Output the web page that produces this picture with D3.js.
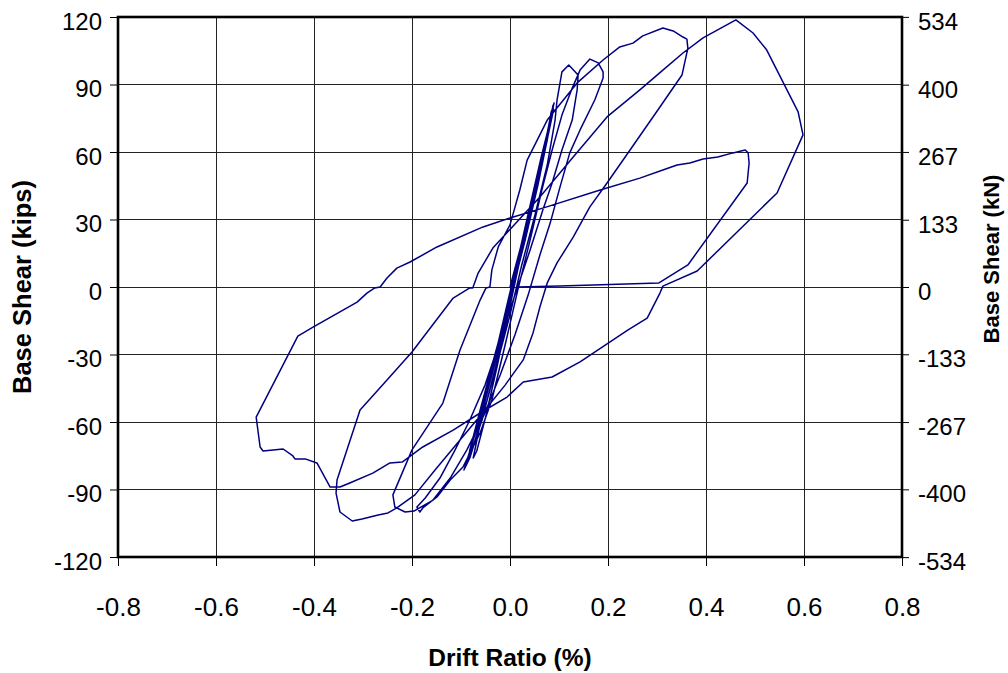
<!DOCTYPE html>
<html>
<head>
<meta charset="utf-8">
<script src="https://cdn.jsdelivr.net/npm/d3@7"></script>
<style>
  body { margin: 0; background: #fff; }
  svg { display: block; }
  text { font-family: Arial, "Liberation Sans", sans-serif; fill: #000; }
</style>
</head>
<body>
<svg id="chart" width="1008" height="673"></svg>
<script>
// ---- data ----
const xTicks = [-0.8, -0.6, -0.4, -0.2, 0.0, 0.2, 0.4, 0.6, 0.8];
const xTickLabels = ["-0.8", "-0.6", "-0.4", "-0.2", "0.0", "0.2", "0.4", "0.6", "0.8"];
const kipTicks = [-120, -90, -60, -30, 0, 30, 60, 90, 120];
const kNTicks = [534, 400, 267, 133, 0, -133, -267, -400, -534];
const KIP_TO_KN = 4.448;

// drift ratio (%) and base shear (kips), in test order
const driftRatio = [
  0, 0.031, 0.057, 0.078, 0.088, 0.080, 0.061, 0.037, 0.010, -0.020, -0.051, -0.078, -0.092,
  -0.082, -0.057, -0.031, -0.006, 0.020, 0.045, 0.067, 0.084, 0.088,
  0.076, 0.051, 0.024, 0.000, -0.031, -0.061, -0.082, -0.086,
  -0.071, -0.045, -0.016, 0.010, 0.037, 0.061, 0.082, 0.090,
  0.080, 0.064, 0.045, 0.022, -0.004, -0.035, -0.062, -0.075,
  -0.068, -0.050, -0.026, 0.000, 0.028, 0.055, 0.078, 0.089,
  0.078, 0.057, 0.031, 0.004, -0.024, -0.053, -0.078, -0.094,
  -0.082, -0.055, -0.027, 0.000, 0.024, 0.051, 0.076, 0.092, 0.096, 0.106, 0.120, 0.139, 0.137,
  0.127, 0.106, 0.086, 0.067, 0.041, 0.010, -0.020, -0.051, -0.082, -0.112, -0.143, -0.173,
  -0.190, -0.184, -0.178, -0.149, -0.122, -0.096, -0.061, -0.037, -0.010, 0.016, 0.041,
  0.065, 0.086, 0.106, 0.127, 0.143, 0.163, 0.180, 0.190, 0.190, 0.173, 0.143, 0.122, 0.102,
  0.082, 0.061, 0.037, 0.010, -0.020, -0.053, -0.088, -0.122, -0.157, -0.196, -0.214, -0.235,
  -0.239, -0.200, -0.137, -0.102, -0.061, -0.049, -0.041, -0.037, -0.024, 0.000, 0.020, 0.035,
  0.076, 0.137, 0.190, 0.224, 0.251, 0.271, 0.312, 0.333, 0.353, 0.361, 0.363, 0.351, 0.306,
  0.245, 0.198, 0.163, 0.129, 0.096, 0.076, 0.061, 0.047, 0.027, -0.010, -0.051, -0.102,
  -0.153, -0.194, -0.231, -0.249, -0.269, -0.302, -0.322, -0.347, -0.355, -0.353,
  -0.306, -0.251, -0.200, -0.116, -0.082, -0.076, -0.065, -0.035, 0.061, 0.129, 0.198, 0.265,
  0.312, 0.353, 0.394, 0.461, 0.496, 0.524, 0.588, 0.598, 0.545, 0.382, 0.312, 0.306, 0.280,
  0.241, 0.143, 0.086, 0.027, -0.006, -0.061, -0.116, -0.178, -0.220, -0.245, -0.280, -0.327,
  -0.347, -0.367, -0.394, -0.418, -0.439, -0.443, -0.463, -0.504, -0.510, -0.518,
  -0.433, -0.402, -0.312, -0.292, -0.276, -0.265, -0.251, -0.231, -0.204, -0.149, -0.055,
  0.000, 0.075, 0.184, 0.265, 0.312, 0.341, 0.367, 0.394, 0.424, 0.455, 0.480, 0.486, 0.488,
  0.484, 0.363, 0.304, 0.102, 0.014
];
const baseShear = [
  0, 25.3, 47.6, 69.8, 80.9, 72.0, 52.0, 29.8, 3.1, -23.6, -50.2, -70.2, -80.4,
  -74.7, -59.1, -36.9, -14.7, 12.0, 34.2, 56.4, 77.8, 79.6,
  65.3, 40.9, 16.4, -5.8, -30.2, -54.7, -72.4, -77.8,
  -68.0, -45.8, -21.3, 5.3, 28.9, 52.0, 75.1, 81.8,
  72.0, 58.0, 40.0, 18.0, -6.0, -35.0, -62.0, -76.0,
  -73.0, -58.0, -35.0, -8.0, 22.0, 47.0, 68.0, 79.0,
  67.6, 45.3, 20.9, -2.2, -25.8, -50.2, -70.2, -81.3,
  -76.0, -56.9, -34.7, -12.4, 9.8, 32.0, 54.2, 74.2, 83.1, 95.6, 98.7, 94.2, 87.6,
  74.2, 60.9, 46.2, 34.2, 16.4, -3.6, -23.6, -43.6, -59.1, -72.4, -84.9, -93.8,
  -97.8, -100.0, -98.2, -93.3, -85.8, -80.0, -64.9, -50.2, -25.8, -1.3, 20.9,
  43.1, 60.9, 76.4, 88.4, 96.4, 101.3, 99.6, 95.6, 92.9, 83.1, 69.8, 59.6, 44.4,
  28.4, 14.2, -3.6, -21.3, -39.1, -56.9, -72.4, -84.9, -94.7, -99.6, -100.0, -97.8,
  -92.4, -72.4, -51.6, -28.0, -5.8, -0.4, 0.0, 7.6, 17.8, 27.6, 43.1, 56.4,
  74.2, 90.7, 100.9, 106.7, 108.4, 111.6, 115.1, 113.8, 111.1, 110.2, 106.2, 94.2, 80.0,
  60.9, 46.2, 35.6, 22.2, 10.7, 1.8, -8.9, -20.4, -32.4, -43.6, -54.7, -68.0,
  -81.3, -92.4, -98.2, -100.4, -101.3, -103.1, -104.0, -100.0, -91.6, -85.8,
  -54.7, -41.3, -28.9, -4.9, -0.4, -0.4, 6.2, 17.3, 40.0, 57.8, 75.6, 87.6,
  96.4, 104.0, 110.7, 118.7, 112.9, 105.3, 77.8, 67.6, 41.8, 7.1, 0.4, -2.7, -13.8,
  -19.1, -33.3, -40.0, -42.2, -48.9, -56.0, -63.6, -71.1, -77.8, -78.2, -82.7, -87.1,
  -88.9, -88.9, -78.2, -76.4, -76.4, -75.1, -72.0, -72.9, -71.1, -57.8,
  -21.8, -17.8, -6.7, -2.7, -0.4, 0.0, 4.0, 8.4, 11.1, 17.8, 26.7,
  30.7, 35.6, 43.1, 48.4, 52.0, 54.2, 55.1, 56.9, 57.8, 59.6, 60.9, 59.6, 55.1,
  46.2, 9.8, 1.8, 0.4, 0.0
];

// ---- layout ----
const svg = d3.select("#chart");
const L = 118, T = 17, W = 784, H = 540;

const x = d3.scaleLinear().domain([-0.8, 0.8]).range([L, L + W]);
const y = d3.scaleLinear().domain([-120, 120]).range([T + H, T]);
const yKN = d3.scaleLinear().domain([-120 * KIP_TO_KN, 120 * KIP_TO_KN]).range([T + H, T]);

// grid
const grid = svg.append("g").attr("shape-rendering", "crispEdges");
grid.selectAll("line.v").data(xTicks).enter().append("line")
  .attr("x1", d => x(d)).attr("x2", d => x(d)).attr("y1", T).attr("y2", T + H)
  .attr("stroke", "#222").attr("stroke-width", 1);
grid.selectAll("line.h").data(kipTicks).enter().append("line")
  .attr("y1", d => y(d)).attr("y2", d => y(d)).attr("x1", L).attr("x2", L + W)
  .attr("stroke", "#222").attr("stroke-width", 1);

// axes
const fmtX = (d, i) => xTickLabels[i];
const bottomAxis = d3.axisBottom(x).tickValues(xTicks).tickFormat(fmtX).tickSizeInner(9).tickSizeOuter(0).tickPadding(8);
const leftAxis = d3.axisLeft(y).tickValues(kipTicks).tickFormat(d => String(d)).tickSizeInner(8).tickSizeOuter(0).tickPadding(8);
const rightAxis = d3.axisRight(yKN).tickValues(kNTicks).tickFormat(d => String(d)).tickSizeInner(7).tickSizeOuter(0).tickPadding(9);

function styleAxis(g, size) {
  g.select(".domain").remove();
  g.selectAll(".tick line").attr("stroke", "#000").attr("stroke-width", 1);
  g.selectAll(".tick text").attr("font-size", size).attr("font-family", "Arial, 'Liberation Sans', sans-serif");
}
const gB = svg.append("g").attr("transform", `translate(0,${T + H})`).call(bottomAxis);
styleAxis(gB, 26);
gB.selectAll(".tick text").attr("dy", "1.62em");
const gL = svg.append("g").attr("transform", `translate(${L},0)`).call(leftAxis);
styleAxis(gL, 24);
gL.selectAll(".tick text").attr("dy", "0.52em");
const gR = svg.append("g").attr("transform", `translate(${L + W},0)`).call(rightAxis);
styleAxis(gR, 24);
gR.selectAll(".tick text").attr("dy", "0.52em");

// data curve
const line = d3.line().x((d, i) => x(driftRatio[i])).y((d, i) => y(baseShear[i]));
svg.append("path")
  .datum(driftRatio)
  .attr("d", line)
  .attr("fill", "none")
  .attr("stroke", "#000080")
  .attr("stroke-width", 1.5)
  .attr("stroke-linejoin", "round");

// frame
svg.append("rect")
  .attr("x", L).attr("y", T).attr("width", W).attr("height", H)
  .attr("fill", "none").attr("stroke", "#000").attr("stroke-width", 2.6);

// titles
svg.append("text")
  .attr("x", x(0)).attr("y", 666)
  .attr("text-anchor", "middle")
  .attr("font-size", 24.5).attr("font-weight", "bold")
  .text("Drift Ratio (%)");
svg.append("text")
  .attr("transform", `translate(31,${T + H / 2}) rotate(-90)`)
  .attr("text-anchor", "middle")
  .attr("font-size", 25.5).attr("font-weight", "bold")
  .text("Base Shear (kips)");
svg.append("text")
  .attr("transform", `translate(999,259) rotate(-90)`)
  .attr("text-anchor", "middle")
  .attr("font-size", 22).attr("font-weight", "bold")
  .text("Base Shear (kN)");
</script>
</body>
</html>
